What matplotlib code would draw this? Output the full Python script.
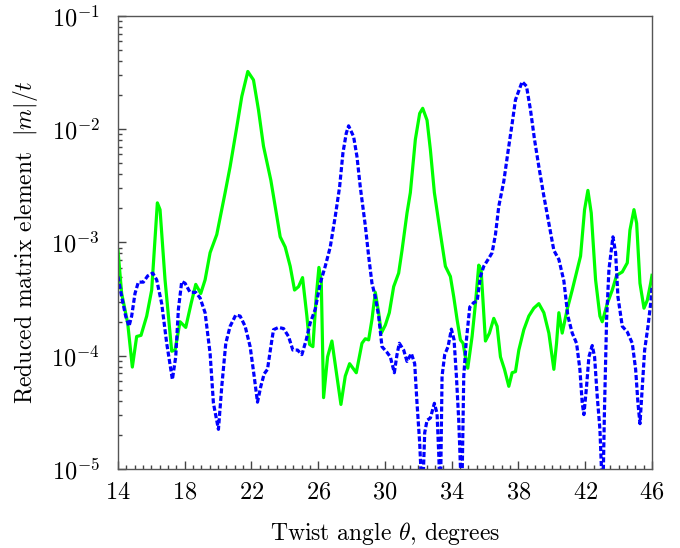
import numpy as np
import matplotlib
matplotlib.use("Agg")
import matplotlib.pyplot as plt
from matplotlib.ticker import FixedLocator, MultipleLocator, LogLocator, NullFormatter

plt.rcParams['font.family'] = ['cmr10', 'DejaVu Serif']
plt.rcParams['mathtext.fontset'] = 'cm'
plt.rcParams['axes.formatter.use_mathtext'] = True

# Green solid curve: twist angle (deg) and log10 of |m|/t
theta_green = [14.0, 14.22, 14.58, 14.86, 15.12, 15.38, 15.72, 16.02, 16.36, 16.52, 16.82, 17.22,
               17.42, 17.72, 18.06, 18.38, 18.66, 18.96, 19.22, 19.52, 19.92, 20.42, 20.72, 21.12,
               21.42, 21.78, 22.12, 22.42, 22.72, 23.16, 23.52, 23.72, 24.02, 24.32, 24.58, 24.82,
               25.06, 25.32, 25.48, 25.68, 25.88, 26.04, 26.18, 26.32, 26.56, 26.82, 27.06, 27.36,
               27.62, 27.88, 28.28, 28.62, 28.82, 29.02, 29.22, 29.42, 29.62, 29.78, 30.02, 30.26,
               30.52, 30.82, 31.02, 31.32, 31.52, 31.82, 32.08, 32.26, 32.52, 32.72, 32.96, 33.32,
               33.62, 33.92, 34.12, 34.32, 34.52, 34.68, 34.82, 34.96, 35.22, 35.42, 35.62, 35.76,
               36.02, 36.26, 36.52, 36.72, 36.92, 37.16, 37.42, 37.62, 37.82, 38.02, 38.32, 38.62,
               38.92, 39.22, 39.52, 39.82, 40.12, 40.28, 40.42, 40.62, 40.92, 41.22, 41.52, 41.72,
               41.96, 42.16, 42.36, 42.62, 42.88, 43.02, 43.32, 43.62, 43.88, 44.22, 44.52, 44.68,
               44.92, 45.08, 45.28, 45.52, 45.72, 45.92, 46.0]
log_green = [-3.07, -3.45, -3.71, -4.10, -3.83, -3.82, -3.65, -3.42, -2.65, -2.71, -3.33, -3.96,
             -3.95, -3.70, -3.75, -3.54, -3.37, -3.45, -3.33, -3.09, -2.93, -2.56, -2.33, -1.98,
             -1.71, -1.49, -1.565, -1.83, -2.15, -2.45, -2.77, -2.95, -3.04, -3.21, -3.42, -3.39,
             -3.31, -3.65, -3.90, -3.92, -3.48, -3.22, -3.33, -4.37, -4.01, -3.87, -4.12, -4.43,
             -4.18, -4.07, -4.15, -3.89, -3.85, -3.86, -3.68, -3.44, -3.62, -3.80, -3.73, -3.62,
             -3.39, -3.27, -3.07, -2.74, -2.56, -2.09, -1.86, -1.815, -1.92, -2.18, -2.56, -2.92,
             -3.21, -3.30, -3.48, -3.68, -3.86, -3.89, -4.01, -4.11, -3.83, -3.54, -3.20, -3.24,
             -3.87, -3.80, -3.67, -3.74, -4.01, -4.12, -4.27, -4.15, -4.14, -3.95, -3.77, -3.65,
             -3.58, -3.54, -3.62, -3.80, -4.12, -3.89, -3.62, -3.80, -3.59, -3.42, -3.24, -3.12,
             -2.71, -2.54, -2.74, -3.33, -3.65, -3.70, -3.54, -3.42, -3.29, -3.26, -3.18, -2.89,
             -2.71, -2.83, -3.36, -3.58, -3.51, -3.36, -3.29]

# Blue dashed curve
theta_blue = [14.0, 14.22, 14.46, 14.66, 14.82, 15.02, 15.22, 15.52, 15.78, 16.08, 16.32, 16.62,
              16.92, 17.26, 17.46, 17.62, 17.82, 18.02, 18.32, 18.66, 18.92, 19.22, 19.52, 19.72,
              20.02, 20.22, 20.46, 20.72, 21.06, 21.32, 21.62, 21.92, 22.16, 22.36, 22.56, 22.76,
              22.96, 23.16, 23.32, 23.62, 23.92, 24.22, 24.48, 24.76, 25.02, 25.28, 25.52, 25.82,
              26.12, 26.42, 26.72, 27.02, 27.28, 27.48, 27.68, 27.82, 28.12, 28.32, 28.52, 28.82,
              29.02, 29.22, 29.42, 29.62, 29.82, 30.12, 30.32, 30.56, 30.72, 30.86, 31.12, 31.32,
              31.58, 31.78, 31.92, 32.08, 32.24, 32.38, 32.52, 32.72, 32.96, 33.12, 33.22, 33.32,
              33.42, 33.58, 33.78, 33.98, 34.14, 34.28, 34.42, 34.6, 34.72, 34.86, 35.08, 35.32,
              35.52, 35.72, 35.92, 36.22, 36.42, 36.62, 36.82, 37.12, 37.36, 37.62, 37.82, 38.22,
              38.48, 38.72, 38.96, 39.22, 39.52, 39.82, 40.12, 40.42, 40.72, 40.96, 41.22, 41.48,
              41.68, 41.82, 41.92, 42.08, 42.22, 42.42, 42.56, 42.72, 42.88, 43.05, 43.15, 43.28,
              43.42, 43.66, 43.82, 43.96, 44.22, 44.52, 44.82, 45.02, 45.16, 45.28, 45.42, 45.56,
              45.76, 45.92, 46.0]
log_blue = [-3.30, -3.48, -3.65, -3.74, -3.65, -3.45, -3.35, -3.35, -3.295, -3.27, -3.33, -3.54,
            -3.89, -4.21, -4.01, -3.59, -3.345, -3.36, -3.44, -3.44, -3.49, -3.62, -3.98, -4.42,
            -4.65, -4.27, -3.89, -3.74, -3.64, -3.65, -3.74, -3.92, -4.18, -4.41, -4.27, -4.16,
            -4.12, -3.92, -3.77, -3.75, -3.76, -3.83, -3.95, -3.95, -3.99, -3.86, -3.71, -3.59,
            -3.36, -3.21, -3.04, -2.77, -2.51, -2.21, -2.035, -1.97, -2.065, -2.24, -2.51, -2.85,
            -3.12, -3.36, -3.48, -3.65, -3.92, -3.97, -4.01, -4.15, -3.99, -3.89, -3.95, -4.05,
            -3.98, -4.07, -4.42, -4.77, -5.3, -4.68, -4.57, -4.55, -4.42, -4.51, -4.86, -5.3,
            -4.18, -3.99, -3.92, -3.765, -3.86, -4.18, -4.57, -5.3, -4.18, -3.89, -3.57, -3.53,
            -3.52, -3.30, -3.21, -3.14, -3.09, -2.93, -2.68, -2.46, -2.21, -1.95, -1.74, -1.58,
            -1.62, -1.83, -2.09, -2.33, -2.59, -2.83, -3.07, -3.15, -3.34, -3.65, -3.80, -3.89,
            -4.12, -4.42, -4.52, -4.27, -4.01, -3.91, -4.01, -4.36, -4.65, -5.3, -4.5, -3.68,
            -3.24, -2.95, -3.09, -3.48, -3.74, -3.79, -3.89, -4.12, -4.42, -4.60, -4.27, -3.95,
            -3.74, -3.54, -3.40]

x_ticks = [14, 18, 22, 26, 30, 34, 38, 42, 46]
y_ticks = [1e-5, 1e-4, 1e-3, 1e-2, 1e-1]

fig = plt.figure(figsize=(6.8, 5.48), dpi=100)
ax = fig.add_axes([0.1735, 0.1442, 0.9588 - 0.1735, 0.9708 - 0.1442])

ax.plot(theta_green, 10.0 ** np.array(log_green), color='#00ff00', lw=2.3, solid_joinstyle='round')
ax.plot(theta_blue, 10.0 ** np.array(log_blue), color='#0000ff', lw=2.3, dashes=(1.6, 0.75))

ax.set_yscale('log')
ax.set_xlim(14, 46)
ax.set_ylim(1e-5, 1e-1)

ax.xaxis.set_major_locator(FixedLocator(x_ticks))
ax.set_xticklabels([rf'${t}$' for t in x_ticks])
ax.xaxis.set_minor_locator(MultipleLocator(0.5))
ax.yaxis.set_major_locator(FixedLocator(y_ticks))
ax.set_yticklabels([rf'$10^{{{int(np.log10(v))}}}$' for v in y_ticks])
ax.yaxis.set_minor_locator(LogLocator(base=10, subs=np.arange(2, 10)))
ax.yaxis.set_minor_formatter(NullFormatter())

ax.tick_params(which='both', direction='in', top=False, right=False, colors='#444444',
               labelcolor='black', labelsize=17.5, width=1.0)
ax.tick_params(which='major', length=6)
ax.tick_params(axis='x', which='major', pad=9)
ax.tick_params(axis='y', which='major', pad=13)
ax.tick_params(which='minor', length=3)
for s in ax.spines.values():
    s.set_color('#555555')
    s.set_linewidth(1.0)

ax.set_xlabel(r'Twist angle $\theta$, degrees', fontsize=17, labelpad=12)
ax.set_ylabel(r'Reduced matrix element  $|m|/t$', fontsize=17, labelpad=8)

fig.savefig('out.png', dpi=100)
